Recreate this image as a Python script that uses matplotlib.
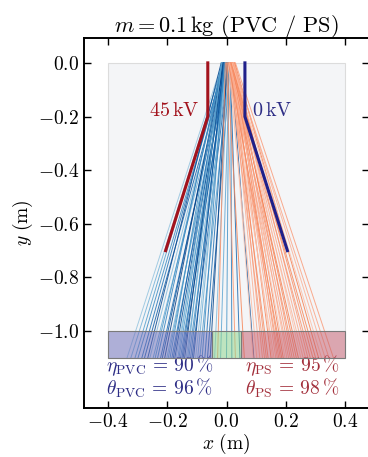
import numpy as np
import matplotlib
matplotlib.use('Agg')
import matplotlib.pyplot as plt
from matplotlib.patches import Rectangle
from matplotlib.colors import LinearSegmentedColormap

plt.rcParams['font.family'] = 'serif'
plt.rcParams['font.serif'] = ['cmr10']
plt.rcParams['mathtext.fontset'] = 'cm'
plt.rcParams['axes.formatter.use_mathtext'] = True

# particle trajectories: x at the hopper exit (y = 0) and x at the bin floor (y = -1.1)
pvc_x_start = [-0.015, -0.010, -0.012, -0.005, -0.008, 0.000, -0.018, -0.003, 0.005, -0.010,
               -0.014, 0.002, -0.006, -0.011, 0.008, -0.002, -0.016, 0.004, -0.009, -0.001,
               0.010, -0.013, -0.004, 0.006, -0.007, 0.001, -0.012, 0.003, -0.017, 0.007,
               -0.005, 0.009, -0.010, 0.000, -0.003, 0.011, -0.008, 0.004, 0.012, 0.002,
               0.006, 0.010, 0.008, 0.014, 0.012, 0.015]
pvc_x_end = [-0.335, -0.322, -0.308, -0.298, -0.285, -0.276, -0.265, -0.258, -0.247, -0.240,
             -0.232, -0.222, -0.216, -0.208, -0.201, -0.196, -0.190, -0.184, -0.179, -0.174,
             -0.170, -0.164, -0.160, -0.155, -0.150, -0.146, -0.141, -0.136, -0.131, -0.127,
             -0.121, -0.116, -0.111, -0.104, -0.097, -0.090, -0.082, -0.073, -0.064, -0.055,
             -0.040, -0.020, 0.000, 0.018, 0.045, 0.092]
ps_x_start = [0.012, 0.006, 0.015, 0.020, 0.008, 0.018, 0.010, 0.022, 0.014, 0.004,
              0.016, 0.025, 0.011, 0.019, 0.007, 0.021, 0.013, 0.024, 0.009, 0.017,
              0.027, 0.012, 0.020, 0.015, 0.023, 0.010, 0.018, 0.026, 0.014, 0.021,
              0.016, 0.028, 0.019, 0.024, 0.022, 0.030, 0.000, -0.004, 0.002]
ps_x_end = [0.090, 0.102, 0.112, 0.121, 0.128, 0.134, 0.140, 0.150, 0.155, 0.160,
            0.166, 0.171, 0.176, 0.181, 0.186, 0.191, 0.197, 0.203, 0.209, 0.215,
            0.221, 0.228, 0.235, 0.242, 0.250, 0.258, 0.266, 0.274, 0.282, 0.291,
            0.300, 0.310, 0.320, 0.332, 0.345, 0.360, 0.030, -0.030, 0.060]
y_exit = 0.0
y_floor = -1.1

# electrodes (x, y vertices)
hv_x = [-0.063, -0.063, -0.205]
hv_y = [0.0, -0.2, -0.7]
gnd_x = [0.062, 0.062, 0.205]
gnd_y = [0.0, -0.2, -0.7]

# collection bins: edges in x
bin_edges = [-0.4, -0.05, 0.05, 0.4]
bin_top, bin_bottom = -1.0, -1.1

eta_pvc, theta_pvc = 90, 96
eta_ps, theta_ps = 95, 98

navy = '#2e2e86'
maroon = '#a3303c'

fig = plt.figure(figsize=(3.68, 4.57), dpi=100)
ax = fig.add_axes([0.228, 0.107, 0.775, 0.81])

ax.add_patch(Rectangle((-0.4, y_floor), 0.8, -y_floor, facecolor='#f4f5f7',
                       edgecolor='#dcdcdc', lw=0.8, zorder=0))

blues = plt.cm.Blues
n = len(pvc_x_end)
for i, (x0, x1) in enumerate(zip(pvc_x_start, pvc_x_end)):
    v = 0.4 + 0.55 * ((i * 7) % n) / n
    ax.plot([x0, x1], [y_exit, y_floor], color=blues(v), lw=0.7, alpha=0.85, zorder=2)

oranges = LinearSegmentedColormap.from_list('or', ['#fde3d6', '#fba384', '#f57e4e'])
n = len(ps_x_end)
for i, (x0, x1) in enumerate(zip(ps_x_start, ps_x_end)):
    v = 0.2 + 0.8 * ((i * 5) % n) / n
    ax.plot([x0, x1], [y_exit, y_floor], color=oranges(v), lw=0.7, alpha=0.85, zorder=2)

ax.plot(hv_x, hv_y, color='#a3131d', lw=2.2, zorder=3)
ax.plot(gnd_x, gnd_y, color='#20208a', lw=2.2, zorder=3)

bin_colors = ['#6a6ab8', '#8ad488', '#c4596a']
for left, right, c in zip(bin_edges[:-1], bin_edges[1:], bin_colors):
    ax.add_patch(Rectangle((left, bin_bottom), right - left, bin_top - bin_bottom,
                           facecolor=c, alpha=0.5, edgecolor='none', zorder=4))
    ax.add_patch(Rectangle((left, bin_bottom), right - left, bin_top - bin_bottom,
                           facecolor='none', edgecolor='#7a7a7a', lw=0.8, zorder=4))

ax.text(-0.09, -0.18, r'$45\,\mathrm{kV}$', color='#a3131d', fontsize=14.5,
        ha='right', va='center')
ax.text(0.085, -0.18, r'$0\,\mathrm{kV}$', color=navy, fontsize=14.5,
        ha='left', va='center')

ax.text(-0.405, -1.13, r'$\eta_{\mathrm{PVC}}\,=\,%d\,\%%$' % eta_pvc, color=navy,
        fontsize=14, ha='left', va='center')
ax.text(-0.405, -1.215, r'$\theta_{\mathrm{PVC}}\,=\,%d\,\%%$' % theta_pvc, color=navy,
        fontsize=14, ha='left', va='center')
ax.text(0.38, -1.13, r'$\eta_{\mathrm{PS}}\,=\,%d\,\%%$' % eta_ps, color=maroon,
        fontsize=14, ha='right', va='center')
ax.text(0.38, -1.215, r'$\theta_{\mathrm{PS}}\,=\,%d\,\%%$' % theta_ps, color=maroon,
        fontsize=14, ha='right', va='center')

ax.set_xlim(-0.48, 0.48)
ax.set_ylim(-1.287, 0.093)
ax.set_xticks([-0.4, -0.2, 0.0, 0.2, 0.4])
ax.set_yticks([0.0, -0.2, -0.4, -0.6, -0.8, -1.0])
ax.tick_params(direction='in', top=True, right=True, labelsize=14, length=5, width=1)
for s in ax.spines.values():
    s.set_linewidth(1.4)

ax.set_xlabel(r'$x\ (\mathrm{m})$', fontsize=14, labelpad=1)
ax.set_ylabel(r'$y\ (\mathrm{m})$', fontsize=14, labelpad=2)
ax.set_title(r'$m = 0.1\,\mathrm{kg}$ (PVC / PS)', fontsize=16, pad=4)

fig.savefig('out.png', dpi=100)
